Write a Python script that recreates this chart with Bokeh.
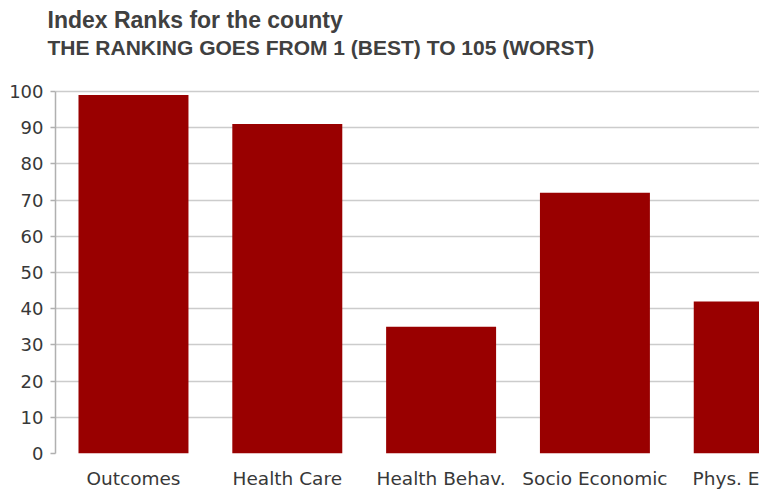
from bokeh.plotting import figure
from bokeh.models import Range1d, FixedTicker, Title, ColumnDataSource
from bokeh.embed import file_html
from bokeh.resources import INLINE

# ---- data ----
categories = ["Outcomes", "Health Care", "Health Behav.", "Socio Economic", "Phys. E"]
ranks = [99, 91, 35, 72, 42]
y_ticks = [0, 10, 20, 30, 40, 50, 60, 70, 80, 90, 100]
title_text = "Index Ranks for the county"
subtitle_text = "THE RANKING GOES FROM 1 (BEST) TO 105 (WORST)"

positions = list(range(len(categories)))
src = ColumnDataSource(dict(x=positions, top=ranks, name=categories))

W, H = 759, 491
p = figure(width=W, height=H, output_backend="svg", toolbar_location=None,
           x_range=Range1d(-0.507, 4.07), y_range=Range1d(0, 101.1),
           min_border_left=55, min_border_right=0, min_border_top=87, min_border_bottom=36,
           title=None)
p.outline_line_color = None
p.background_fill_color = "white"
p.border_fill_color = "white"

p.vbar(x="x", top="top", width=0.715, bottom=0, source=src,
       fill_color="#990000", line_color=None)

# y axis
p.yaxis.ticker = FixedTicker(ticks=y_ticks)
p.yaxis.bounds = (0, 100)
p.yaxis.axis_line_color = "#b0b0b0"
p.yaxis.axis_line_width = 1.5
p.yaxis.major_tick_line_color = "#b0b0b0"
p.yaxis.major_tick_line_width = 1.5
p.yaxis.major_tick_out = 5
p.yaxis.major_tick_in = 0
p.yaxis.minor_tick_line_color = None
p.yaxis.minor_tick_out = 0
p.yaxis.major_label_standoff = 7
p.yaxis.major_label_text_font = "DejaVu Sans"
p.yaxis.major_label_text_font_size = "18px"
p.yaxis.major_label_text_color = "#383838"

# x axis
p.xaxis.ticker = FixedTicker(ticks=positions)
p.xaxis.major_label_overrides = {i: c for i, c in zip(positions, categories)}
p.xaxis.axis_line_color = None
p.xaxis.major_tick_line_color = None
p.xaxis.major_tick_out = 0
p.xaxis.major_tick_in = 0
p.xaxis.minor_tick_line_color = None
p.xaxis.minor_tick_out = 0
p.xaxis.major_label_standoff = 14
p.xaxis.major_label_text_font = "DejaVu Sans"
p.xaxis.major_label_text_font_size = "18.5px"
p.xaxis.major_label_text_color = "#383838"

# grid
p.xgrid.grid_line_color = None
p.ygrid.ticker = FixedTicker(ticks=y_ticks)
p.ygrid.grid_line_color = "#cccccc"
p.ygrid.grid_line_width = 1.5
p.ygrid.level = "underlay"

# titles: the one added later sits further from the plot.
# The trailing blank line of the subtitle leaves the gap above the plot area.
p.add_layout(Title(text=subtitle_text + "\n", align="left", offset=-8, standoff=7,
                   vertical_align="top",
                   text_font="Liberation Sans", text_font_style="bold",
                   text_font_size="21px", text_color="#404040"), "above")
p.add_layout(Title(text=title_text, align="left", offset=-8, standoff=0,
                   text_font="Liberation Sans", text_font_style="bold",
                   text_font_size="23px", text_color="#404040"), "above")

open("out.html", "w").write(file_html(p, INLINE))
